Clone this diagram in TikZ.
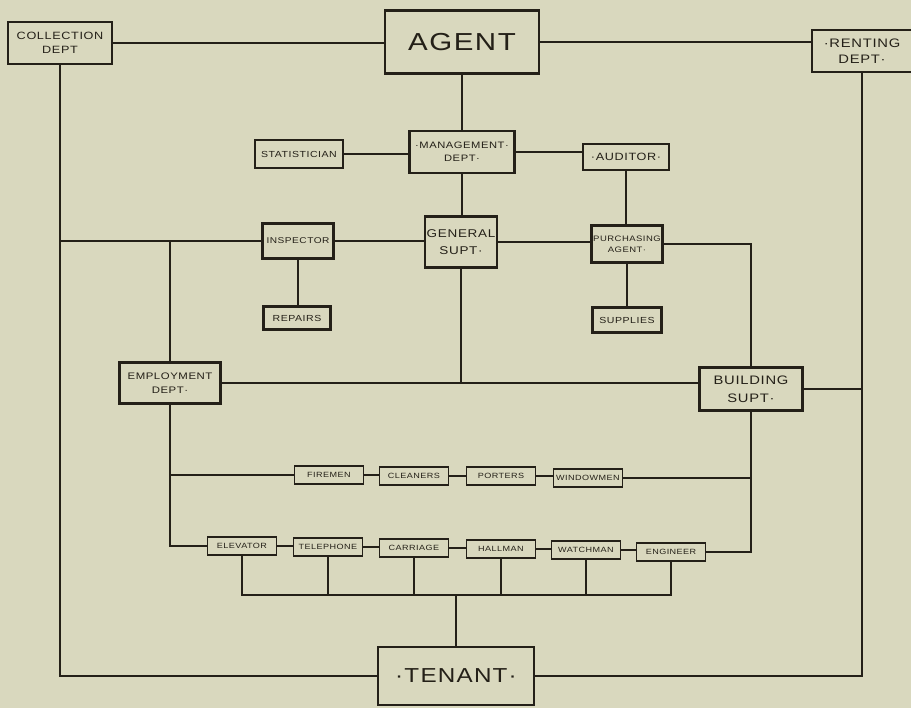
\documentclass[tikz,border=0pt]{standalone}
\usepackage{fontspec}
\setmainfont{Liberation Sans}[LetterSpace=6,FakeStretch=1.2]
\usetikzlibrary{positioning}
\usetikzlibrary{calc}
\definecolor{paper}{RGB}{217,216,190}
\definecolor{ink}{RGB}{36,32,24}

\begin{document}
\begin{tikzpicture}[x=0.02cm, y=-0.02cm, color=ink, line width=1pt,
    box/.style={draw, line width=1.2pt, align=center, inner sep=0pt,
      font=\fontsize{6}{8}\selectfont},
    small/.style={box, line width=1pt, minimum width=1.38cm, minimum height=0.37cm,
      font=\fontsize{4.3}{5}\selectfont}]
  \path[use as bounding box, fill=paper] (0,0) rectangle (911,708);

  \node[box, minimum width=2.08cm, minimum height=0.84cm] (coll) at (60,43) {COLLECTION\\DEPT};
  \node[box, minimum width=3.08cm, minimum height=1.26cm, font=\fontsize{14}{16}\selectfont] (agent) at (462,42) {AGENT};
  \node[box, minimum width=2.0cm, minimum height=0.84cm, font=\fontsize{7}{9}\selectfont] (rent) at (862,51) {·RENTING\\DEPT·};

  \node[box, minimum width=1.76cm, minimum height=0.56cm, font=\fontsize{5}{6}\selectfont] (stat) at (299,154) {STATISTICIAN};
  \node[box, minimum width=2.1cm, minimum height=0.84cm, font=\fontsize{5.3}{7.5}\selectfont] (mgmt) at (462,152) {·MANAGEMENT·\\DEPT·};
  \node[box, minimum width=1.72cm, minimum height=0.52cm] (aud) at (626,157) {·AUDITOR·};

  \node[box, minimum width=1.42cm, minimum height=0.7cm, font=\fontsize{4.8}{6}\selectfont] (insp) at (298,241) {INSPECTOR};
  \node[box, minimum width=1.44cm, minimum height=1.02cm, font=\fontsize{6.4}{10}\selectfont] (gen) at (461,242) {GENERAL\\SUPT·};
  \node[box, minimum width=1.42cm, minimum height=0.74cm, font=\fontsize{4.5}{6.5}\selectfont] (purch) at (627,244) {PURCHASING\\AGENT·};
  \node[box, minimum width=1.34cm, minimum height=0.46cm, font=\fontsize{5}{6}\selectfont] (rep) at (297,318) {REPAIRS};
  \node[box, minimum width=1.38cm, minimum height=0.5cm, font=\fontsize{5}{6}\selectfont] (sup) at (627,320) {SUPPLIES};

  \node[box, minimum width=2.02cm, minimum height=0.82cm, font=\fontsize{5.4}{8}\selectfont] (emp) at (170,383) {EMPLOYMENT\\DEPT·};
  \node[box, minimum width=2.06cm, minimum height=0.86cm, font=\fontsize{7}{10}\selectfont] (bld) at (751,389) {BUILDING\\SUPT·};

  \node[small] (fire) at (329,475) {FIREMEN};
  \node[small] (clean) at (414,476) {CLEANERS};
  \node[small] (port) at (501,476) {PORTERS};
  \node[small] (wind) at (588,478) {WINDOWMEN};

  \node[small] (elev) at (242,546) {ELEVATOR};
  \node[small] (tel) at (328,547) {TELEPHONE};
  \node[small] (carr) at (414,548) {CARRIAGE};
  \node[small] (hall) at (501,549) {HALLMAN};
  \node[small] (watch) at (586,550) {WATCHMAN};
  \node[small] (eng) at (671,552) {ENGINEER};

  \node[box, minimum width=3.12cm, minimum height=1.16cm, font=\fontsize{11.5}{13}\selectfont] (ten) at (456,676) {·TENANT·};
  \coordinate (bus) at (456,595);

  \draw (coll.east) -- (coll.east -| agent.west);
  \draw (agent.east) -- (agent.east -| rent.west);
  \draw (agent.south) -- (mgmt.north);
  \draw (stat.east) -- (stat.east -| mgmt.west);
  \draw (mgmt.east) -- (mgmt.east -| aud.west);
  \draw (mgmt.south) -- (mgmt.south |- gen.north);
  \draw (aud.south) -- (aud.south |- purch.north);

  \draw (coll.south) |- (ten.west);
  \draw (rent.south) |- (ten.east);
  \draw (insp.west) -- (insp.west -| coll.south);
  \draw (insp.east) -- (insp.east -| gen.west);
  \draw (gen.east) -- (gen.east -| purch.west);
  \draw (insp.south) -- (insp.south |- rep.north);
  \draw (purch.south) -- (purch.south |- sup.north);
  \draw (emp.north) -- (emp.north |- insp.west);
  \draw (purch.east) -| (bld.north);

  \draw (emp.east) -- (emp.east -| bld.west);
  \draw (gen.south) -- (gen.south |- emp.east);
  \draw (bld.east) -- (bld.east -| rent.south);

  \draw (emp.south) |- (elev.west);
  \draw (fire.west) -- (fire.west -| emp.south);
  \draw (bld.south) |- (eng.east);
  \draw (wind.east) -- (wind.east -| bld.south);
  \foreach \a/\b in {fire/clean, clean/port, port/wind, elev/tel, tel/carr, carr/hall, hall/watch, watch/eng}
    \draw (\a.east) -- (\a.east -| \b.west);

  \draw (elev.south) |- (bus) -| (eng.south);
  \foreach \a in {tel, carr, hall, watch}
    \draw (\a.south) -- (\a.south |- bus);
  \draw (ten.north) -- (bus);
\end{tikzpicture}
\end{document}
